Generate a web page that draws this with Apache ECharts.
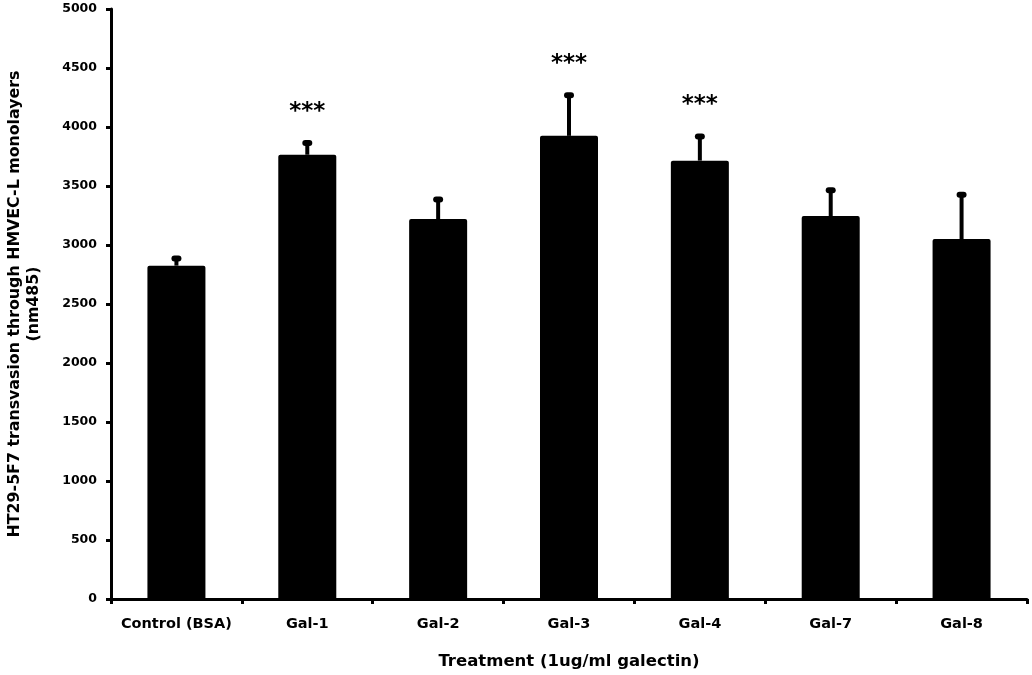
<!DOCTYPE html>
<html>
<head>
<meta charset="utf-8">
<script src="https://cdn.jsdelivr.net/npm/echarts@6/dist/echarts.min.js"></script>
<style>
  html, body { margin: 0; padding: 0; background: #fff; }
  #chart { width: 1032px; height: 675px; }
</style>
</head>
<body>
<div id="chart"></div>
<script>
// Transvasion of HT29-5F7 cells per treatment (mean, upper SD) and significance marks
const categories = ['Control (BSA)', 'Gal-1', 'Gal-2', 'Gal-3', 'Gal-4', 'Gal-7', 'Gal-8'];
const means = [2825, 3765, 3220, 3925, 3715, 3245, 3050];
const errors = [60, 100, 165, 345, 205, 220, 375];
const significance = ['', '***', '', '***', '***', '', ''];
const yTicks = { min: 0, max: 5000, interval: 500 };

const FONT = '"DejaVu Sans", "Liberation Sans", Arial, sans-serif';

const chart = echarts.init(document.getElementById('chart'), null, { renderer: 'canvas' });

const errorData = categories.map((c, i) => [i, means[i], errors[i]]);

chart.setOption({
  animation: false,
  backgroundColor: '#ffffff',
  grid: { left: 111, right: 5, top: 9, bottom: 76, containLabel: false, outerBoundsMode: 'none' },
  xAxis: {
    type: 'category',
    data: categories,
    name: 'Treatment (1ug/ml galectin)',
    nameLocation: 'middle',
    nameGap: 54,
    nameTextStyle: { color: '#000', fontFamily: FONT, fontWeight: 'bold', fontSize: 16.5 },
    axisLine: { lineStyle: { color: '#000', width: 3 } },
    axisTick: { show: true, length: 5, lineStyle: { color: '#000', width: 3 } },
    axisLabel: { color: '#000', fontFamily: FONT, fontWeight: 'bold', fontSize: 14.5, margin: 18, interval: 0 },
    splitLine: { show: false }
  },
  yAxis: {
    type: 'value',
    min: yTicks.min,
    max: yTicks.max,
    interval: yTicks.interval,
    name: 'HT29-5F7 transvasion through HMVEC-L monolayers\n(nm485)',
    nameLocation: 'middle',
    nameRotate: 90,
    nameGap: 68,
    nameTextStyle: { color: '#000', fontFamily: FONT, fontWeight: 'bold', fontSize: 15.8, lineHeight: 19, align: 'center' },
    axisLine: { show: true, lineStyle: { color: '#000', width: 3 } },
    axisTick: { show: true, length: 5, lineStyle: { color: '#000', width: 3 } },
    axisLabel: {
      color: '#000', fontFamily: FONT, fontWeight: 'bold', fontSize: 12.5, margin: 14,
      formatter: function (v) { return String(v); }
    },
    splitLine: { show: false }
  },
  series: [
    {
      type: 'bar',
      data: means,
      barWidth: 58,
      itemStyle: { color: '#000', borderRadius: [2, 2, 0, 0] }
    },
    {
      type: 'custom',
      data: errorData,
      z: 5,
      renderItem: function (params, api) {
        const idx = api.value(0);
        const mean = api.value(1);
        const err = api.value(2);
        const sig = significance[idx];
        const base = api.coord([idx, mean]);
        const top = api.coord([idx, mean + err]);
        const children = [
          { type: 'rect', shape: { x: base[0] - 2, y: top[1], width: 4, height: base[1] - top[1] }, style: { fill: '#000' } },
          { type: 'rect', shape: { x: top[0] - 5, y: top[1] - 3, width: 10, height: 6, r: 3 }, style: { fill: '#000' } }
        ];
        if (sig) {
          children.push({
            type: 'text',
            style: {
              text: sig, x: top[0], y: top[1] - 31,
              align: 'center', verticalAlign: 'middle',
              fontFamily: FONT, fontWeight: 'bold', fontSize: 23, fill: '#000'
            }
          });
        }
        return { type: 'group', children: children };
      }
    }
  ]
});
</script>
</body>
</html>
